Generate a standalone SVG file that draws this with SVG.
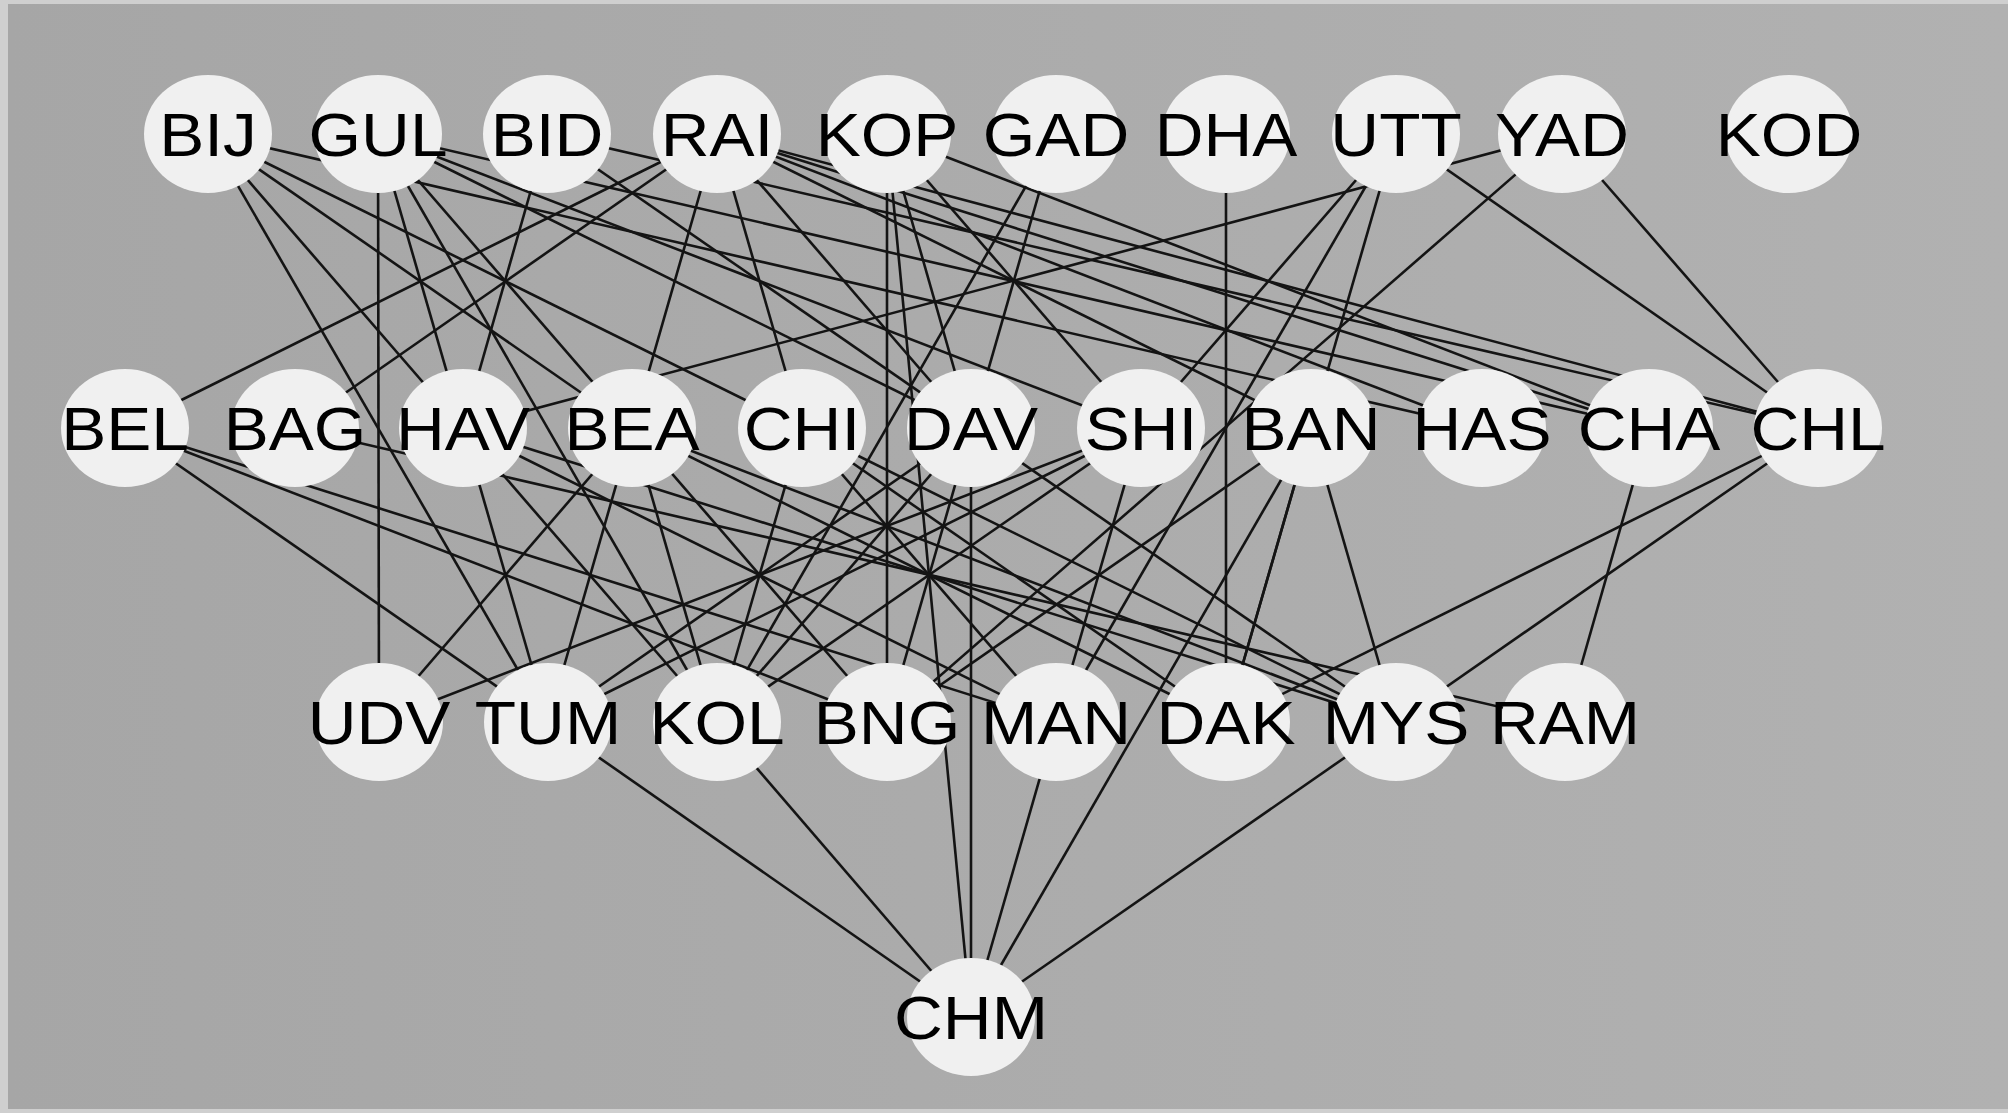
<svg xmlns="http://www.w3.org/2000/svg" width="2008" height="1113" viewBox="0 0 2008 1113">
<defs>
<linearGradient id="bg" x1="0" y1="0" x2="1" y2="0">
<stop offset="0" stop-color="#a6a6a6"/>
<stop offset="1" stop-color="#b1b1b1"/>
</linearGradient>
<style>
.e line{stroke:#141414;stroke-width:2.6}
.n ellipse{fill:#f0f0f0}
.n text{font-family:"Liberation Sans",Arial,sans-serif;font-size:62px;fill:#000;text-anchor:middle}
</style>
</defs>
<rect width="2008" height="1113" fill="#cfcfcf"/>
<rect x="8" y="4" width="2000" height="1105" fill="url(#bg)"/>
<g id="edges" class="e">
<line x1="378" y1="134" x2="379" y2="722"/>
<line x1="208" y1="134" x2="548" y2="722"/>
<line x1="208" y1="134" x2="717" y2="722"/>
<line x1="208" y1="134" x2="632" y2="428"/>
<line x1="208" y1="134" x2="1396" y2="722"/>
<line x1="208" y1="134" x2="1482" y2="428"/>
<line x1="125" y1="428" x2="717" y2="134"/>
<line x1="295" y1="428" x2="717" y2="134"/>
<line x1="547" y1="134" x2="463" y2="428"/>
<line x1="378" y1="134" x2="548" y2="722"/>
<line x1="378" y1="134" x2="717" y2="722"/>
<line x1="378" y1="134" x2="887" y2="722"/>
<line x1="379" y1="722" x2="632" y2="428"/>
<line x1="379" y1="722" x2="1141" y2="428"/>
<line x1="887" y1="134" x2="887" y2="722"/>
<line x1="887" y1="134" x2="971" y2="1017"/>
<line x1="971" y1="428" x2="971" y2="1017"/>
<line x1="548" y1="722" x2="971" y2="1017"/>
<line x1="717" y1="722" x2="971" y2="1017"/>
<line x1="1056" y1="722" x2="971" y2="1017"/>
<line x1="1311" y1="428" x2="971" y2="1017"/>
<line x1="1396" y1="722" x2="971" y2="1017"/>
<line x1="1311" y1="428" x2="1396" y2="722"/>
<line x1="1649" y1="428" x2="1565" y2="722"/>
<line x1="1818" y1="428" x2="1396" y2="722"/>
<line x1="1818" y1="428" x2="1226" y2="722"/>
<line x1="295" y1="428" x2="1565" y2="722"/>
<line x1="463" y1="428" x2="1562" y2="134"/>
<line x1="1396" y1="134" x2="1818" y2="428"/>
<line x1="1562" y1="134" x2="1818" y2="428"/>
<line x1="1562" y1="134" x2="887" y2="722"/>
<line x1="1396" y1="134" x2="1056" y2="722"/>
<line x1="1396" y1="134" x2="1141" y2="428"/>
<line x1="1226" y1="134" x2="1226" y2="722"/>
<line x1="1056" y1="134" x2="887" y2="722"/>
<line x1="1056" y1="134" x2="717" y2="722"/>
<line x1="887" y1="134" x2="1141" y2="428"/>
<line x1="887" y1="134" x2="1649" y2="428"/>
<line x1="887" y1="134" x2="971" y2="428"/>
<line x1="717" y1="134" x2="802" y2="428"/>
<line x1="717" y1="134" x2="548" y2="722"/>
<line x1="717" y1="134" x2="1818" y2="428"/>
<line x1="717" y1="134" x2="971" y2="428"/>
<line x1="717" y1="134" x2="1311" y2="428"/>
<line x1="717" y1="134" x2="1482" y2="428"/>
<line x1="717" y1="134" x2="1649" y2="428"/>
<line x1="125" y1="428" x2="548" y2="722"/>
<line x1="125" y1="428" x2="887" y2="722"/>
<line x1="125" y1="428" x2="1056" y2="722"/>
<line x1="547" y1="134" x2="1396" y2="722"/>
<line x1="378" y1="134" x2="1649" y2="428"/>
<line x1="547" y1="134" x2="1818" y2="428"/>
<line x1="632" y1="428" x2="1396" y2="722"/>
<line x1="632" y1="428" x2="1226" y2="722"/>
<line x1="632" y1="428" x2="717" y2="722"/>
<line x1="802" y1="428" x2="1056" y2="722"/>
<line x1="802" y1="428" x2="1226" y2="722"/>
<line x1="802" y1="428" x2="717" y2="722"/>
<line x1="971" y1="428" x2="717" y2="722"/>
<line x1="971" y1="428" x2="548" y2="722"/>
<line x1="1141" y1="428" x2="548" y2="722"/>
<line x1="1141" y1="428" x2="717" y2="722"/>
<line x1="1141" y1="428" x2="1056" y2="722"/>
<line x1="1311" y1="428" x2="887" y2="722"/>
<line x1="1311" y1="428" x2="1226" y2="722"/>
<line x1="463" y1="428" x2="1396" y2="722"/>
<line x1="463" y1="428" x2="1056" y2="722"/>
<line x1="378" y1="134" x2="1141" y2="428"/>
<line x1="378" y1="134" x2="971" y2="428"/>
<line x1="1396" y1="134" x2="1226" y2="722"/>
</g>
<g id="BIJ" class="n" transform="translate(208,134)"><ellipse rx="64" ry="59"/><text y="22" transform="scale(1.09,1)">BIJ</text></g>
<g id="GUL" class="n" transform="translate(378,134)"><ellipse rx="64" ry="59"/><text y="22" transform="scale(1.09,1)">GUL</text></g>
<g id="BID" class="n" transform="translate(547,134)"><ellipse rx="64" ry="59"/><text y="22" transform="scale(1.09,1)">BID</text></g>
<g id="RAI" class="n" transform="translate(717,134)"><ellipse rx="64" ry="59"/><text y="22" transform="scale(1.09,1)">RAI</text></g>
<g id="KOP" class="n" transform="translate(887,134)"><ellipse rx="64" ry="59"/><text y="22" transform="scale(1.09,1)">KOP</text></g>
<g id="GAD" class="n" transform="translate(1056,134)"><ellipse rx="64" ry="59"/><text y="22" transform="scale(1.09,1)">GAD</text></g>
<g id="DHA" class="n" transform="translate(1226,134)"><ellipse rx="64" ry="59"/><text y="22" transform="scale(1.09,1)">DHA</text></g>
<g id="UTT" class="n" transform="translate(1396,134)"><ellipse rx="64" ry="59"/><text y="22" transform="scale(1.09,1)">UTT</text></g>
<g id="YAD" class="n" transform="translate(1562,134)"><ellipse rx="64" ry="59"/><text y="22" transform="scale(1.09,1)">YAD</text></g>
<g id="KOD" class="n" transform="translate(1789,134)"><ellipse rx="64" ry="59"/><text y="22" transform="scale(1.09,1)">KOD</text></g>
<g id="BEL" class="n" transform="translate(125,428)"><ellipse rx="64" ry="59"/><text y="22" transform="scale(1.09,1)">BEL</text></g>
<g id="BAG" class="n" transform="translate(295,428)"><ellipse rx="64" ry="59"/><text y="22" transform="scale(1.09,1)">BAG</text></g>
<g id="HAV" class="n" transform="translate(463,428)"><ellipse rx="64" ry="59"/><text y="22" transform="scale(1.09,1)">HAV</text></g>
<g id="BEA" class="n" transform="translate(632,428)"><ellipse rx="64" ry="59"/><text y="22" transform="scale(1.09,1)">BEA</text></g>
<g id="CHI" class="n" transform="translate(802,428)"><ellipse rx="64" ry="59"/><text y="22" transform="scale(1.09,1)">CHI</text></g>
<g id="DAV" class="n" transform="translate(971,428)"><ellipse rx="64" ry="59"/><text y="22" transform="scale(1.09,1)">DAV</text></g>
<g id="SHI" class="n" transform="translate(1141,428)"><ellipse rx="64" ry="59"/><text y="22" transform="scale(1.09,1)">SHI</text></g>
<g id="BAN" class="n" transform="translate(1311,428)"><ellipse rx="64" ry="59"/><text y="22" transform="scale(1.09,1)">BAN</text></g>
<g id="HAS" class="n" transform="translate(1482,428)"><ellipse rx="64" ry="59"/><text y="22" transform="scale(1.09,1)">HAS</text></g>
<g id="CHA" class="n" transform="translate(1649,428)"><ellipse rx="64" ry="59"/><text y="22" transform="scale(1.09,1)">CHA</text></g>
<g id="CHL" class="n" transform="translate(1818,428)"><ellipse rx="64" ry="59"/><text y="22" transform="scale(1.09,1)">CHL</text></g>
<g id="UDV" class="n" transform="translate(379,722)"><ellipse rx="64" ry="59"/><text y="22" transform="scale(1.09,1)">UDV</text></g>
<g id="TUM" class="n" transform="translate(548,722)"><ellipse rx="64" ry="59"/><text y="22" transform="scale(1.09,1)">TUM</text></g>
<g id="KOL" class="n" transform="translate(717,722)"><ellipse rx="64" ry="59"/><text y="22" transform="scale(1.09,1)">KOL</text></g>
<g id="BNG" class="n" transform="translate(887,722)"><ellipse rx="64" ry="59"/><text y="22" transform="scale(1.09,1)">BNG</text></g>
<g id="MAN" class="n" transform="translate(1056,722)"><ellipse rx="64" ry="59"/><text y="22" transform="scale(1.09,1)">MAN</text></g>
<g id="DAK" class="n" transform="translate(1226,722)"><ellipse rx="64" ry="59"/><text y="22" transform="scale(1.09,1)">DAK</text></g>
<g id="MYS" class="n" transform="translate(1396,722)"><ellipse rx="64" ry="59"/><text y="22" transform="scale(1.09,1)">MYS</text></g>
<g id="RAM" class="n" transform="translate(1565,722)"><ellipse rx="64" ry="59"/><text y="22" transform="scale(1.09,1)">RAM</text></g>
<g id="CHM" class="n" transform="translate(971,1017)"><ellipse rx="64" ry="59"/><text y="22" transform="scale(1.09,1)">CHM</text></g>
</svg>
